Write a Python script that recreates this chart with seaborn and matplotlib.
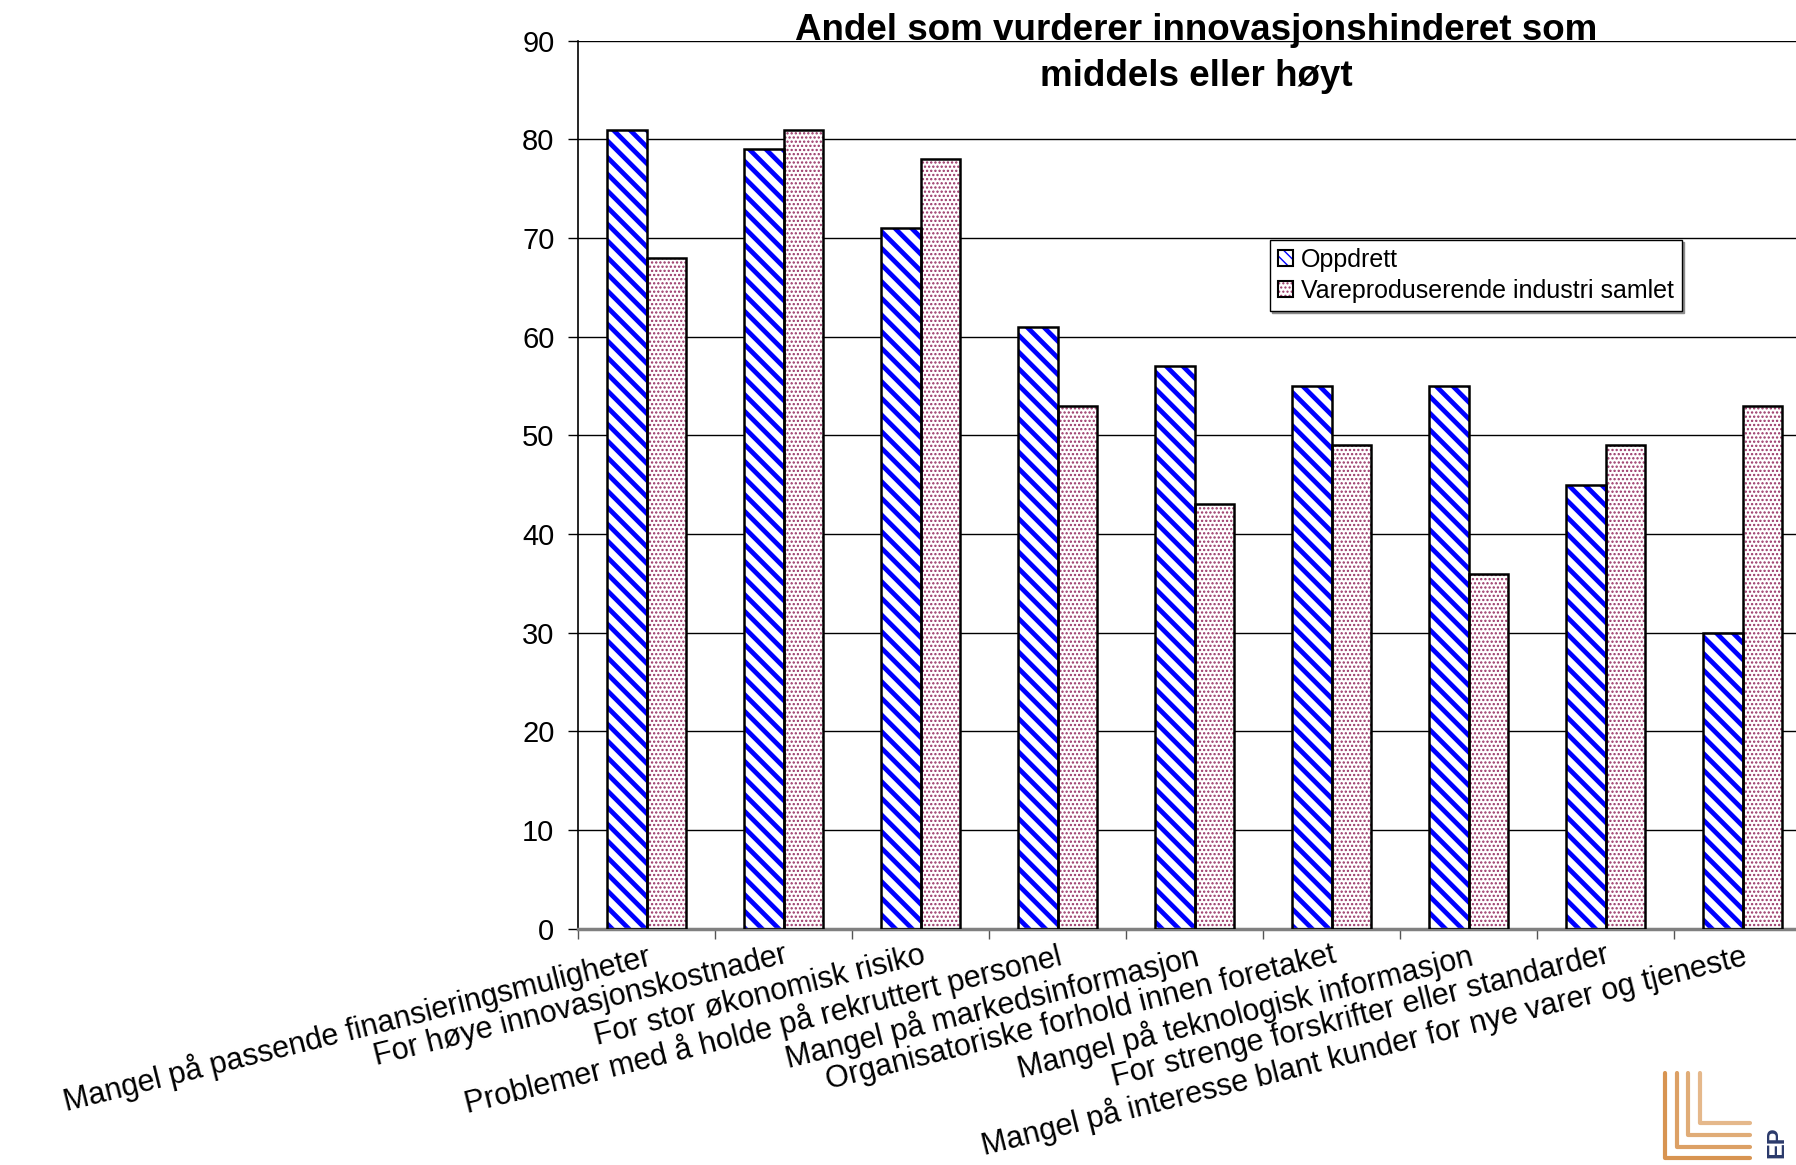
import numpy as np
import pandas as pd
import seaborn as sns
import matplotlib.pyplot as plt
from matplotlib import font_manager
from matplotlib.patches import Patch, Rectangle
from matplotlib.lines import Line2D
from matplotlib.legend_handler import HandlerTuple

# =========================
# DATA
# =========================
kategorier = [
    "Mangel på passende finansieringsmuligheter",
    "For høye innovasjonskostnader",
    "For stor økonomisk risiko",
    "Problemer med å holde på rekruttert personel",
    "Mangel på markedsinformasjon",
    "Organisatoriske forhold innen foretaket",
    "Mangel på teknologisk informasjon",
    "For strenge forskrifter eller standarder",
    "Mangel på interesse blant kunder for nye varer og tjeneste",
]
serier = ["Oppdrett", "Vareproduserende industri samlet"]
oppdrett = [81, 79, 71, 61, 57, 55, 55, 45, 30]
vareproduserende = [68, 81, 78, 53, 43, 49, 36, 49, 53]
y_ticks = list(range(0, 100, 10))
tittel = "Andel som vurderer innovasjonshinderet som\nmiddels eller høyt"

df = pd.DataFrame({
    "kategori": kategorier * 2,
    "serie": [serier[0]] * len(kategorier) + [serier[1]] * len(kategorier),
    "andel": oppdrett + vareproduserende,
})

# =========================
# STYLE
# =========================
sns.set_style("white")
plt.rcParams["font.family"] = ["Liberation Sans", "DejaVu Sans"]
plt.rcParams["text.color"] = "black"
plt.rcParams["xtick.color"] = "black"
plt.rcParams["ytick.color"] = "black"
navn = {f.name for f in font_manager.fontManager.ttflist}
tittel_font = "Liberation Sans Narrow" if "Liberation Sans Narrow" in navn else "Liberation Sans"

W, H = 1796, 1165
fig = plt.figure(figsize=(W / 100, H / 100), dpi=100)
ax = fig.add_axes([578 / W, 1 - 928.7 / H, 1233 / W, 888 / H])

sns.barplot(
    data=df, x="kategori", y="andel", hue="serie",
    palette=["white", "white"], width=0.57, gap=0,
    linewidth=0, ax=ax, legend=False, zorder=2,
)

hatcher = ["\\\\", "...."]
farger = ["#0000FF", "#993366"]
hatch_lw = [3.4, 1.1]
for i, cont in enumerate(ax.containers):
    for bar in cont:
        bar.set_facecolor("white")
        bar.set_hatch(hatcher[i])
        bar.set_edgecolor(farger[i])
        bar.set_linewidth(0)
        if hasattr(bar, "set_hatch_linewidth"):
            bar.set_hatch_linewidth(hatch_lw[i])
        ramme = Rectangle(bar.get_xy(), bar.get_width(), bar.get_height(),
                          fill=False, edgecolor="black", linewidth=1.8, zorder=3)
        ax.add_patch(ramme)
if not hasattr(ax.containers[0][0], "set_hatch_linewidth"):
    plt.rcParams["hatch.linewidth"] = 2.5

# akser
ax.set_ylim(0, 90)
ax.set_xlim(-0.5, len(kategorier) - 0.5)
ax.set_yticks(y_ticks)
ax.tick_params(axis="y", labelsize=21, length=7, width=1, color="black",
               direction="out", left=True, pad=10)
ax.set_xticks(np.arange(-0.5, len(kategorier)), [""] * (len(kategorier) + 1))
ax.set_xticks(range(len(kategorier)), kategorier, minor=True)
ax.tick_params(axis="x", which="major", length=7, width=1, color="#555555",
               direction="out", bottom=True)
ax.tick_params(axis="x", which="minor", length=0, labelsize=22, pad=8)
for lab in ax.get_xticklabels(minor=True):
    lab.set_rotation(14)
    lab.set_rotation_mode("anchor")
    lab.set_ha("right")
    lab.set_va("top")

ax.set_xlabel("")
ax.set_ylabel("")
ax.yaxis.grid(True, color="black", linewidth=1)
ax.set_axisbelow(True)
for s in ["top", "right"]:
    ax.spines[s].set_visible(False)
ax.spines["left"].set_color("black")
ax.spines["left"].set_linewidth(1.2)
ax.spines["bottom"].set_color("#808080")
ax.spines["bottom"].set_linewidth(2.5)

# legend
h1 = (Patch(facecolor="white", edgecolor="#0000FF", hatch="\\\\\\", linewidth=0),
      Patch(facecolor="none", edgecolor="black", linewidth=1.5))
h2 = (Patch(facecolor="white", edgecolor="#993366", hatch="....", linewidth=0),
      Patch(facecolor="none", edgecolor="black", linewidth=1.5))
leg = ax.legend([h1, h2], serier, handler_map={tuple: HandlerTuple(ndivide=1, pad=0)},
                loc="upper left", bbox_to_anchor=((1270 - 578) / 1233, 1 - (240 - 40.7) / 888),
                borderaxespad=0, fontsize=18, frameon=True, fancybox=False,
                handlelength=0.6, handleheight=0.6, handletextpad=0.35,
                labelspacing=0.3, borderpad=0.3,
                shadow={"ox": 1.5, "oy": -1.5, "color": "0.55", "alpha": 1})
leg.get_frame().set_edgecolor("black")
leg.get_frame().set_linewidth(1.0)

# tittel
fig.text(1196 / W, 1 - 13 / H, tittel, ha="center", va="top", fontsize=26.5,
         fontweight="bold", family=tittel_font, linespacing=1.4)

# logo nede til høyre
oransje = "#D4893E"
for k, (x0, y0) in enumerate([(1665, 1158), (1677, 1147), (1688, 1135), (1700, 1123)]):
    fig.add_artist(Line2D([x0 / W, x0 / W, 1750 / W], [1 - 1073 / H, 1 - y0 / H, 1 - y0 / H],
                          transform=fig.transFigure, color=oransje, linewidth=3,
                          alpha=0.9 - 0.1 * k))
fig.text(1777 / W, 1 - 1142 / H, "EP", rotation=90, ha="center", va="center",
         fontsize=17, fontweight="bold", color="#2B3A6B")

plt.savefig("out.png", dpi=100)
